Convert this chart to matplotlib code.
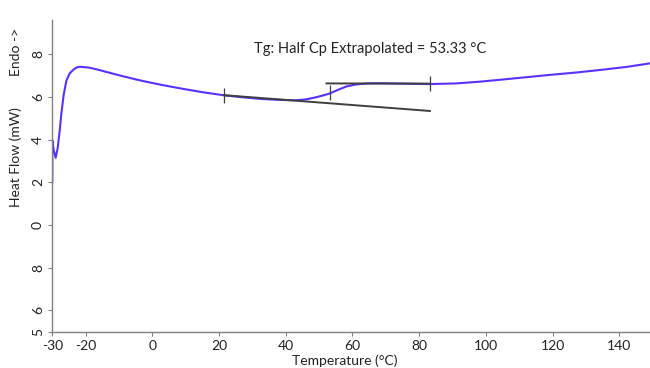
import matplotlib
matplotlib.use("Agg")
import matplotlib.pyplot as plt

# curva DSC (temperatura em °C, fluxo de calor em mW)
temp = [-30.0, -30.0, -29.6, -29.0, -28.4, -27.8, -27.3, -26.6, -25.8, -24.8, -23.5,
        -22.6, -21.8, -20.5, -19.0, -17.0, -15.0, -13.0, -10.8, -8.0, -5.0, -3.0,
        -0.8, 2.0, 5.0, 9.2, 15.0, 21.2, 27.0, 33.0, 38.0, 42.7, 46.0, 49.0, 51.0,
        53.2, 55.5, 58.2, 61.0, 64.2, 68.0, 75.0, 83.2, 91.0, 98.0, 104.2, 112.0,
        119.2, 127.0, 134.2, 142.0, 149.2]
heat = [2.0, 3.97, 3.5, 3.15, 3.6, 4.4, 5.2, 6.1, 6.75, 7.1, 7.3,
        7.38, 7.41, 7.395, 7.37, 7.30, 7.22, 7.135, 7.045, 6.935, 6.82, 6.75,
        6.675, 6.585, 6.495, 6.375, 6.22, 6.08, 5.98, 5.9, 5.86, 5.84, 5.88, 5.98, 6.06,
        6.16, 6.32, 6.49, 6.58, 6.63, 6.64, 6.62, 6.6, 6.63, 6.71, 6.8, 6.92,
        7.03, 7.14, 7.26, 7.4, 7.57]

# linhas de base (tangentes) e marcadores do Tg
base_lo_t = [21.4, 83.2]
base_lo_h = [6.08, 5.34]
base_hi_t = [52.2, 83.2]
base_hi_h = [6.63, 6.62]
mark_t = [21.4, 53.2, 83.2]
mark_h = [6.08, 6.2, 6.62]

xticks = [-30, -20, 0, 20, 40, 60, 80, 100, 120, 140]
yticks = [-5, -4, -2, 0, 2, 4, 6, 8]
ytick_labels = ["5", "6", "8", "0", "2", "4", "6", "8"]

plt.rcParams["font.family"] = ["Lato", "DejaVu Sans"]
fig = plt.figure(figsize=(6.5, 3.68), dpi=100)
ax = fig.add_axes([0.0805, 0.0986, 0.9195, 0.847])

ax.plot(temp, heat, color="#5A30FF", lw=1.5, zorder=2)
ax.plot(base_lo_t, base_lo_h, color="#3F3F3F", lw=1.4, zorder=3)
ax.plot(base_hi_t, base_hi_h, color="#3F3F3F", lw=1.4, zorder=3)
ax.vlines(mark_t, [h - 0.35 for h in mark_h], [h + 0.35 for h in mark_h],
          color="#3F3F3F", lw=0.9, zorder=3)

ax.set_xlim(-30, 149.2)
ax.set_ylim(-5, 9.6)
ax.set_xticks(xticks)
ax.set_xticklabels([str(t) for t in xticks], fontsize=10, color="#222222")
ax.set_yticks(yticks)
ax.set_yticklabels(ytick_labels, fontsize=10, color="#222222", rotation=90, va="center")
ax.tick_params(axis="both", length=3, width=0.8, color="#808080", pad=3)

for s in ["top", "right"]:
    ax.spines[s].set_visible(False)
for s in ["left", "bottom"]:
    ax.spines[s].set_color("#808080")
    ax.spines[s].set_linewidth(1.0)

fig.text(345 / 650, 1 - 361 / 368, "Temperature (°C)", ha="center", va="center",
         fontsize=10, color="#222222")
fig.text(16 / 650, 1 - 157 / 368, "Heat Flow (mW)", ha="center", va="center",
         rotation=90, fontsize=10, color="#222222")
fig.text(16 / 650, 1 - 52 / 368, "Endo ->", ha="center", va="center",
         rotation=90, fontsize=10, color="#222222")
fig.text(370 / 650, 1 - 49 / 368, "Tg: Half Cp Extrapolated = 53.33 °C", ha="center",
         va="center", fontsize=10.5, color="#222222")

fig.savefig("out.png", dpi=100)
